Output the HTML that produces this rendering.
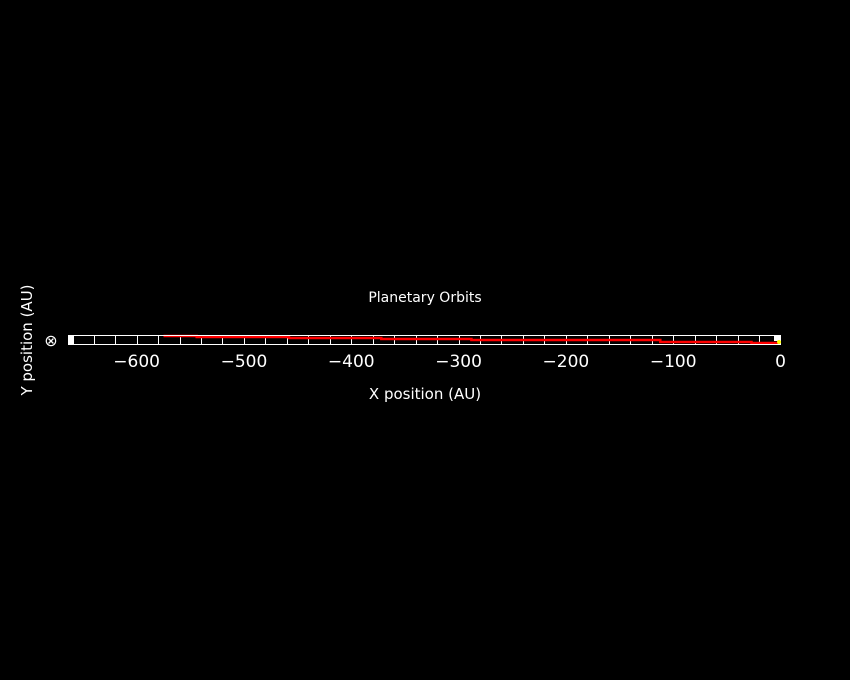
<!DOCTYPE html>
<html><head><meta charset="utf-8"><style>
html,body{margin:0;background:#000;width:850px;height:680px;overflow:hidden}
svg{display:block}
text{font-family:"DejaVu Sans","Liberation Sans",sans-serif;fill:#fff}
</style></head><body>
<svg width="850" height="680">
<text x="425" y="302" font-size="14" text-anchor="middle">Planetary Orbits</text>
<text x="425" y="399" font-size="15" text-anchor="middle">X position (AU)</text>
<text x="32" y="340" font-size="15" text-anchor="middle" transform="rotate(-90 32 340)">Y position (AU)</text>
<text x="51" y="346" font-size="16" text-anchor="middle">⊗</text>
<g id="grid"></g>
<g id="xticks"></g>
<path id="orbit" fill="none" stroke="#f00" stroke-width="2.5"></path>
<rect x="68.5" y="335.5" width="712" height="9" fill="none" stroke="#fff"></rect>
<rect x="69" y="336" width="5" height="8" fill="#fff"></rect>
<rect x="774" y="336" width="6" height="5" fill="#fff"></rect>
<circle cx="779" cy="342" r="2" fill="#ff0"></circle>
</svg>
<script>
const tickValues=[-600,-500,-400,-300,-200,-100,0];
const orbitX=[-575,-544,-544,-458,-458,-372,-372,-288,-288,-112,-112,-27,-27,0];
const orbitY=[8,8,7,7,6,6,5,5,4,4,2,2,1,1];
const xMin=-663.5,xMax=0,yMin=-0.5,yMax=8.5;
const sx=v=>68.5+(v-xMin)/(xMax-xMin)*712;
const sy=v=>344.5-(v-yMin)/(yMax-yMin)*9;
const ns="http://www.w3.org/2000/svg";
const grid=document.getElementById('grid');
for(let v=-660;v<0;v+=20){
 const l=document.createElementNS(ns,'line');
 
 
 const x=Math.round(sx(v))+0.5;
 l.setAttribute('x1',x);l.setAttribute('x2',x);l.setAttribute('y1',335.5);l.setAttribute('y2',344.5);
 l.setAttribute('stroke','#fff');grid.appendChild(l);
}
const xt=document.getElementById('xticks');
tickValues.forEach(v=>{
 const t=document.createElementNS(ns,'text');
 
 
 t.setAttribute('x',sx(v));t.setAttribute('y',367);t.setAttribute('font-size','17');t.setAttribute('text-anchor','middle');
 t.textContent=v<0?'\u2212'+Math.abs(v):String(v);xt.appendChild(t);
});
document.getElementById('orbit').setAttribute('d',orbitX.map((x,i)=>(i?'L':'M')+sx(x).toFixed(1)+' '+sy(orbitY[i]).toFixed(1)).join(' '));
</script>
</body></html>
